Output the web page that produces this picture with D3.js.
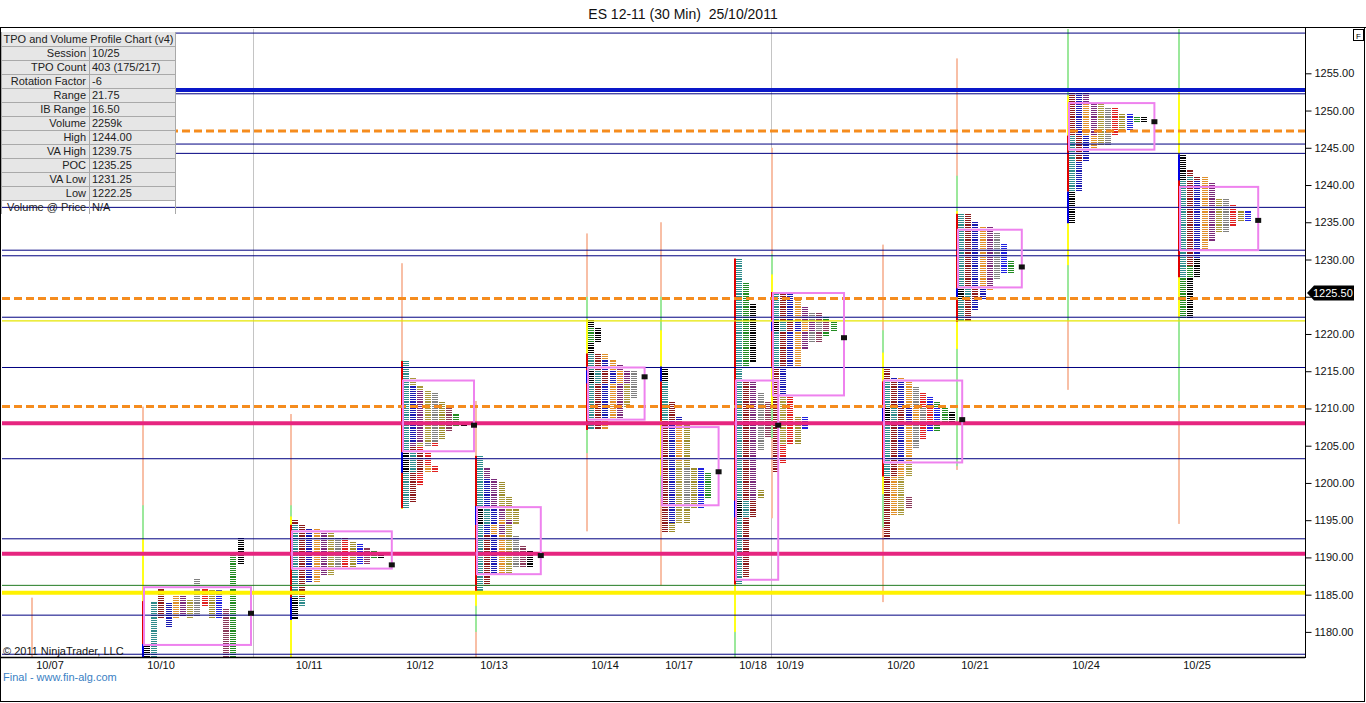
<!DOCTYPE html>
<html><head><meta charset="utf-8">
<script src="https://cdn.jsdelivr.net/npm/d3@7"></script>
<style>
html,body{margin:0;padding:0;background:#fff;}
svg{display:block;font-family:"Liberation Sans",Arial,sans-serif;}
</style></head><body>
<svg id="c" width="1366" height="703"></svg>
<script>
// ---------------- DATA ----------------
const chartTitle = "ES 12-11 (30 Min)  25/10/2011";
const sessions = ["10/07","10/10","10/11","10/12","10/13","10/14","10/17","10/18","10/19","10/20","10/21","10/24","10/25"];
const sessionSlots = [0,3,7,10,12,15,17,19,20,23,25,28,31];   // bar index of each session start
const splitSessions = ["10/10"];
const separatorSlots = [6,20];

// TPO periods per session: [periodIndex, low, high]
const tpo_1007 = [];
const tpo_1010 = [[0,1176,1178.25],[1,1176,1184],[2,1182,1185.75],[3,1180.75,1183.75],[4,1182,1184.75],[5,1182.25,1184.75],[6,1182,1184.25],[7,1182.25,1187],[8,1183.5,1186],[9,1182,1185.5],[10,1182,1185.5],[11,1176,1183],[12,1176,1190.5],[13,1189.25,1192.5]];
const tpo_1011 = [[0,1181.75,1184.5],[1,1183.5,1194.25],[2,1184.75,1195],[3,1186.75,1193.75],[4,1186.75,1193.75],[5,1187.75,1193.25],[6,1187.75,1193.25],[7,1188.5,1192.5],[8,1188.75,1192.5],[9,1188.75,1192],[10,1189.25,1191.75],[11,1189.25,1191.25],[12,1190,1190.75],[13,1190,1190.25]];
const tpo_1012 = [[0,1201.5,1204],[1,1196.75,1216.25],[2,1197.5,1204.75],[3,1205.5,1213],[4,1201.5,1202.25],[5,1205,1212.25],[6,1205,1214],[7,1205,1212],[8,1199.75,1205.25],[9,1206,1210.75],[11,1207,1210],[12,1207.75,1209.25],[13,1207.75,1208]];
const tpo_1013 = [[0,1194.5,1196.75],[1,1185.25,1203.5],[2,1186.25,1193],[3,1187.75,1200.5],[4,1187.75,1195],[5,1193.25,1202],[6,1187.75,1198],[7,1188.75,1192.75],[9,1195.25,1200],[11,1188.75,1191.5],[13,1188.75,1190.75]];
const tpo_1014 = [[0,1213.5,1215],[1,1207.25,1217.25],[2,1207.25,1217.25],[3,1208.5,1216.5],[4,1207.25,1217.25],[5,1208.5,1215.75],[6,1210.25,1213.25],[7,1211.5,1215],[12,1219,1220.75],[13,1217.5,1221.75]];
const tpo_1017 = [[0,1213.75,1215.5],[1,1208.5,1213.5],[2,1193.5,1210.75],[3,1194.75,1208.75],[4,1203,1208],[6,1194.75,1202.75],[7,1196.75,1202],[9,1193.5,1208.25],[10,1196.75,1202],[12,1198,1201.25]];
const tpo_1018 = [[0,1195.5,1197.5],[1,1186.5,1230],[2,1187.5,1213.5],[5,1197.75,1213.5],[7,1204.5,1212],[9,1198,1199],[11,1206.25,1210.75],[12,1215.5,1226.75],[13,1216.25,1224]];
const tpo_1019 = [[0,1220.5,1221.5],[1,1215.75,1225.5],[2,1201.5,1225.5],[3,1212,1225.5],[4,1215.75,1224.5],[5,1218,1223.5],[6,1205.25,1211.5],[7,1219,1222.75],[8,1202.75,1211.75],[9,1205.25,1208.75],[10,1207.25,1208.75],[11,1219,1222.75],[12,1219.75,1222.25]];
const tpo_1020 = [[0,1208,1210],[1,1201,1213.5],[2,1192.5,1215.5],[3,1203,1214],[4,1195.75,1214],[6,1195.75,1202.75],[7,1204.75,1212.75],[8,1206,1212],[10,1207,1211.5],[11,1196.75,1198],[12,1207,1210.75],[13,1208,1209.5]];
const tpo_1021 = [[0,1224.75,1226],[1,1221.75,1236],[2,1221.75,1236],[3,1223.25,1235],[4,1226,1234.25],[5,1226.25,1234.25],[7,1227.5,1233.5],[10,1228.25,1232],[12,1228.25,1229.75]];
const tpo_1024 = [[0,1235,1239],[1,1239.25,1246.5],[2,1243.25,1252.75],[3,1239.25,1252.75],[4,1244.75,1251],[5,1246.75,1252.75],[6,1245.5,1251],[7,1245.5,1250.25],[8,1246.75,1250.25],[9,1247.5,1249.5],[10,1247.5,1249.5],[12,1248.5,1249],[13,1248.5,1249]];
const tpo_1025 = [[0,1240.75,1244],[1,1227.75,1241],[2,1229.25,1242],[3,1230.25,1240.5],[4,1231.5,1241],[5,1232.5,1240.25],[6,1233.75,1238],[7,1233.75,1238],[8,1234.5,1237.25],[9,1235.25,1236.5],[10,1235.25,1236.5],[12,1222.25,1229],[13,1222.25,1230]];

const vaHigh = [null,1186.0,1193.5,1213.75,1196.75,1215.5,1207.5,1213.75,1225.5,1213.75,1234.0,1251.0,1239.75];
const vaLow  = [null,1178.25,1188.5,1204.25,1187.75,1208.5,1197.0,1187.0,1211.75,1202.75,1226.25,1244.75,1231.25];
const pocPrice = [null,1182.5,1189.0,1207.75,1190.25,1214.25,1201.5,1207.75,1219.5,1208.5,1229.0,1248.5,1235.25];

// session range lines [low, high]
const outerRange  = [[1170,1184.6],[1170,1210.25],[1170,1209.25],[1196.5,1229.5],[1176,1211],[1193.5,1233.5],[1186.25,1235],[1170,1230],[1195.25,1245],[1184,1232],[1201.75,1257],[1212.5,1262],[1194.5,1262]];
const middleRange = [null,[1170,1197],[1170,1197],[1196.5,1216.5],[1180,1200],[1204,1225],[1198,1225],[1170,1186.5],[1206,1230.75],[1194,1220.5],[1202.25,1241.25],[1221.75,1261],[1211,1262]];
const innerRange  = [null,[1172,1192.5],[1175,1195.5],[1196.5,1214],[1183.5,1200],[1208,1222],[1201,1220.5],[1180,1186.5],[1210,1228],[1198.5,1217.5],[1218,1236.5],[1229.25,1252],[1222.25,1252.5]];

// horizontal reference levels
const navyLevels    = [1260.4,1252.25,1245.5,1244.25,1237.0,1231.25,1230.5,1222.25,1215.5,1203.25,1192.5,1182.25,1177.0];
const blueLevels    = [1252.75];
const magentaLevels = [1208.0,1190.5];
const orangeLevels  = [1247.25,1224.75,1210.25];
const yellowLevels  = [1185.25];
const yellowThinLevels = [1221.75];
const greenLevels   = [1186.25];

const priceTicks = [1180,1185,1190,1195,1200,1205,1210,1215,1220,1225,1230,1235,1240,1245,1250,1255];
const lastPrice = 1225.5;

const statLabels = ["Session","TPO Count","Rotation Factor","Range","IB Range","Volume","High","VA High","POC","VA Low","Low","Volume @ Price"];
const statValues = ["10/25","403 (175/217)","-6","21.75","16.50","2259k","1244.00","1239.75","1235.25","1231.25","1222.25","N/A"];

const periodColors = ["#000000","#2E8B8B","#8B1A1A","#1A1AB0","#E0902A","#7A2A7A","#A8983A","#808080","#E02020","#9C8C2C","#2020E0","#8A3A5A","#228B22","#000000"];

const profiles = [tpo_1007,tpo_1010,tpo_1011,tpo_1012,tpo_1013,tpo_1014,tpo_1017,tpo_1018,tpo_1019,tpo_1020,tpo_1021,tpo_1024,tpo_1025];

// ---------------- DRAW ----------------
const svg = d3.select("#c");
const plot = {l:1, r:1305, t:28, b:657};
const y = d3.scaleLinear().domain([1255,1180]).range([73.3,631.9]);
const x = d3.scaleLinear().domain([0,34]).range([31,31+34*37]);
const COLW = 7.2, DASHW = 5.5;

svg.append("rect").attr("width",1366).attr("height",703).attr("fill","#fff");
svg.append("defs").append("clipPath").attr("id","pc").append("rect")
  .attr("x",plot.l).attr("y",plot.t+1).attr("width",plot.r-plot.l).attr("height",plot.b-plot.t-1);

const g = svg.append("g").attr("clip-path","url(#pc)");

// separators
g.selectAll("line.sep").data(separatorSlots).join("line")
  .attr("x1",d=>Math.round(x(d))+0.5).attr("x2",d=>Math.round(x(d))+0.5)
  .attr("y1",plot.t).attr("y2",plot.b).attr("stroke","#c4c4c4").attr("stroke-width",1);

// session range lines
function rangeLine(arr,color){
  g.append("g").selectAll("rect").data(arr.map((r,i)=>({r,i})).filter(d=>d.r)).join("rect")
    .attr("x",d=>Math.round(x(sessionSlots[d.i])))
    .attr("width",2)
    .attr("y",d=>y(d.r[1])).attr("height",d=>y(d.r[0])-y(d.r[1]))
    .attr("fill",color);
}
rangeLine(outerRange,"#F8BFA6");
rangeLine(middleRange,"#9BE89B");
rangeLine(innerRange,"#FFFF1A");

// layout TPOs
function layout(periods, split){
  const out=[];
  if(!periods.length) return {cells:out,maxCols:0};
  if(split){
    periods.forEach((p,i)=>{
      const n=Math.round((p[2]-p[1])/0.25);
      for(let k=0;k<=n;k++) out.push({per:p[0],price:p[1]+k*0.25,col:i});
    });
    return {cells:out,maxCols:periods.length};
  }
  const lo=d3.min(periods,d=>d[1]), hi=d3.max(periods,d=>d[2]);
  let maxCols=0;
  const n=Math.round((hi-lo)/0.25);
  for(let k=0;k<=n;k++){
    const v=lo+k*0.25;
    const cov=periods.filter(p=>p[1]<=v+1e-6 && p[2]>=v-1e-6).sort((a,b)=>a[0]-b[0]);
    cov.forEach((p,j)=>out.push({per:p[0],price:v,col:j}));
    maxCols=Math.max(maxCols,cov.length);
  }
  return {cells:out,maxCols};
}

const layouts = profiles.map((p,i)=>layout(p, splitSessions.includes(sessions[i])));

// IB bars (period 0 blue over period 1 red)
profiles.forEach((p,i)=>{
  if(!p.length) return;
  const x0=Math.round(x(sessionSlots[i]));
  const pB=p.find(d=>d[0]===1), pA=p.find(d=>d[0]===0);
  if(pB) g.append("rect").attr("x",x0).attr("width",2).attr("y",y(pB[2])-1).attr("height",y(pB[1])-y(pB[2])+2).attr("fill","#E00000");
  if(pA) g.append("rect").attr("x",x0).attr("width",2).attr("y",y(pA[2])-1).attr("height",y(pA[1])-y(pA[2])+2).attr("fill","#0000E0");
});

// TPO dashes
layouts.forEach((L,i)=>{
  const x0=Math.round(x(sessionSlots[i]));
  g.append("g").attr("shape-rendering","crispEdges").selectAll("rect").data(L.cells).join("rect")
    .attr("x",d=>Math.round(x0+2+d.col*COLW))
    .attr("y",d=>Math.round(y(d.price)-0.5))
    .attr("width",DASHW).attr("height",1)
    .attr("fill",d=>periodColors[d.per]);
});

// level lines
function hLines(levels,color,width,dash){
  g.append("g").selectAll("line").data(levels).join("line")
    .attr("x1",plot.l+1).attr("x2",plot.r)
    .attr("y1",d=>y(d)).attr("y2",d=>y(d))
    .attr("stroke",color).attr("stroke-width",width)
    .attr("stroke-dasharray",dash||null);
}
hLines(navyLevels,"#000080",1);
hLines(greenLevels,"#207A20",1);
hLines(yellowThinLevels,"#E6E600",1.2);
hLines(yellowLevels,"#FFF200",4);
hLines(magentaLevels,"#E6257F",4);
hLines(blueLevels,"#0A18C8",4);
hLines(orangeLevels,"#F58C1E",3,"8,4");

// value area boxes + POC
layouts.forEach((L,i)=>{
  if(vaHigh[i]==null) return;
  const x0=Math.round(x(sessionSlots[i]));
  const right=x0+2+(L.maxCols+1)*COLW-1;
  g.append("rect").attr("x",x0+2).attr("y",y(vaHigh[i])).attr("width",right-x0-2)
    .attr("height",y(vaLow[i])-y(vaHigh[i]))
    .attr("fill","none").attr("stroke","#EE82EE").attr("stroke-width",2);
  g.append("rect").attr("x",right-3).attr("y",y(pocPrice[i])-2.5).attr("width",6).attr("height",5).attr("fill","#111");
});

// plot frame
svg.append("line").attr("x1",0).attr("x2",1366).attr("y1",27.5).attr("y2",27.5).attr("stroke","#000");
svg.append("line").attr("x1",0).attr("x2",plot.r).attr("y1",plot.b+0.5).attr("y2",plot.b+0.5).attr("stroke","#000").attr("stroke-width",1.5);
svg.append("line").attr("x1",plot.r+0.5).attr("x2",plot.r+0.5).attr("y1",27.5).attr("y2",plot.b+1).attr("stroke","#000");
svg.append("rect").attr("x",0.5).attr("y",27.5).attr("width",1364).attr("height",674).attr("fill","none").attr("stroke","#000");

// y axis (the label hidden behind the last-price marker is not drawn)
const ya = svg.append("g").attr("transform",`translate(${plot.r+0.5},0)`)
  .call(d3.axisRight(y).tickValues(priceTicks).tickFormat(d3.format(".2f")).tickSize(6).tickPadding(3));
ya.select(".domain").remove();
ya.selectAll("text").attr("font-size",11).attr("font-family","Liberation Sans, Arial, sans-serif").attr("fill","#111");
ya.selectAll(".tick").filter(d=>Math.abs(y(d)-y(lastPrice))<12).select("text").remove();

// last price marker
const ly=y(lastPrice);
svg.append("path").attr("d",`M${plot.r+2},${ly} L${plot.r+9},${ly-7.5} L${1354},${ly-7.5} L${1354},${ly+7.5} L${plot.r+9},${ly+7.5} Z`).attr("fill","#000");
svg.append("text").attr("x",1313).attr("y",ly+4).attr("font-size",11).attr("fill","#fff").text(d3.format(".2f")(lastPrice));

// F box
svg.append("rect").attr("x",1353.5).attr("y",29.5).attr("width",10).attr("height",11).attr("fill","#fff").attr("stroke","#000");
svg.append("text").attr("x",1358.5).attr("y",38.5).attr("text-anchor","middle").attr("font-size",8).text("F");

// x axis
const xa = svg.append("g").attr("transform",`translate(0,${plot.b})`)
  .call(d3.axisBottom(x).tickValues(sessionSlots.map(s=>s+0.5)).tickFormat((d,i)=>sessions[i]).tickSize(0).tickPadding(4));
xa.select(".domain").remove();
xa.selectAll("text").attr("font-size",11).attr("font-family","Liberation Sans, Arial, sans-serif").attr("fill","#111");

// title
svg.append("text").attr("x",683).attr("y",19).attr("text-anchor","middle").attr("font-size",14).attr("fill","#111")
  .attr("xml:space","preserve").text(chartTitle);

// stats table
const tb = svg.append("g").attr("font-size",11).attr("fill","#222");
const TX=1.5, TY=32, RH=14, C1=89, C2=175;
tb.append("rect").attr("x",TX).attr("y",TY).attr("width",C2-TX).attr("height",RH*12).attr("fill","#E6E6E6");
tb.append("text").attr("x",TX+2).attr("y",TY+10.5).attr("fill","#222").text("TPO and Volume Profile Chart (v4)");
statLabels.forEach((l,i)=>{
  const ry=TY+RH*(i+1);
  tb.append("line").attr("x1",TX).attr("x2",C2).attr("y1",ry+0.5).attr("y2",ry+0.5).attr("stroke","#A9A9A9");
  tb.append("text").attr("x",C1-3).attr("y",ry+11).attr("text-anchor","end").attr("fill","#222").text(l);
  tb.append("text").attr("x",C1+3).attr("y",ry+11).attr("fill","#222").text(statValues[i]);
});
tb.append("line").attr("x1",C1+0.5).attr("x2",C1+0.5).attr("y1",TY+RH).attr("y2",TY+RH*13).attr("stroke","#A9A9A9");
tb.append("line").attr("x1",C2+0.5).attr("x2",C2+0.5).attr("y1",TY).attr("y2",TY+RH*13).attr("stroke","#A9A9A9");
tb.append("line").attr("x1",TX).attr("x2",TX).attr("y1",TY).attr("y2",TY+RH*13).attr("stroke","#A9A9A9");

// footer texts
svg.append("text").attr("x",3).attr("y",655).attr("font-size",11).attr("fill","#111").text("© 2011 NinjaTrader, LLC");
svg.append("text").attr("x",3).attr("y",681).attr("font-size",11).attr("fill","#3A7FC4").text("Final - www.fin-alg.com");
</script>
</body></html>
